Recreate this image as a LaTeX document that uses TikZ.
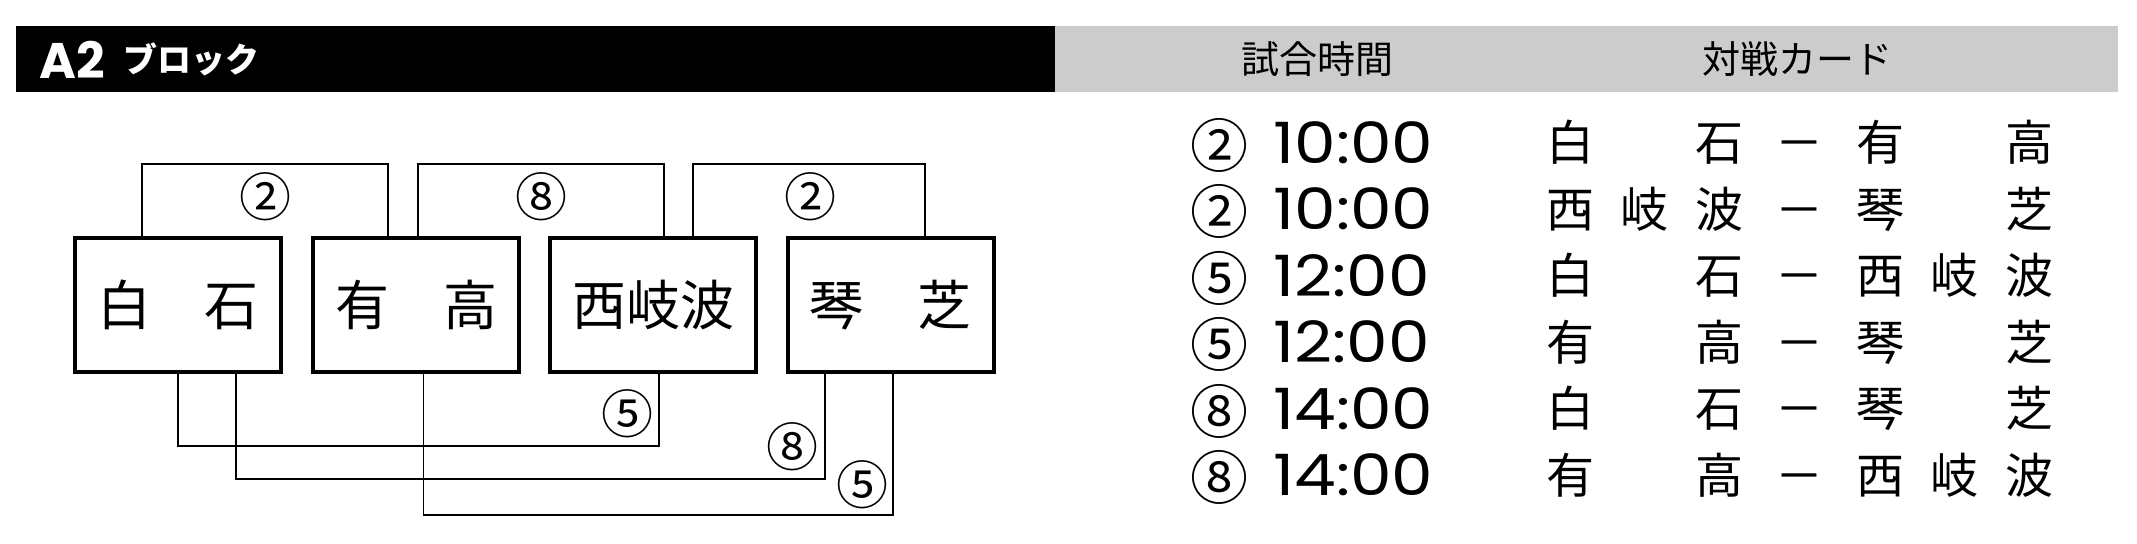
\documentclass[tikz,border=0pt]{standalone}
\usepackage{fontspec}
\setmainfont{Noto Sans CJK JP}
\newfontfamily\geofont{Poppins}
\usetikzlibrary{calc}

\definecolor{headgray}{RGB}{204,204,204}
\newcommand{\cells}[3]{\makebox[37.5pt]{#1}\makebox[37.5pt]{#2}\makebox[37.5pt]{#3}}
\newcommand{\pairing}[2]{#1\makebox[42.5pt]{－}#2}
\newcommand{\clock}[1]{\scalebox{1.16}[1]{#1}}

\tikzset{
  team/.style={draw, line width=2pt, minimum width=103pt, minimum height=67pt, inner sep=0pt, font=\fontsize{27pt}{27pt}\selectfont},
  game/.style={inner sep=0pt, font=\fontsize{26pt}{26pt}\selectfont},
  link/.style={line width=0.7pt},
  rownum/.style={inner sep=0pt, font=\fontsize{29pt}{29pt}\selectfont},
  rowtime/.style={inner sep=0pt, anchor=west, font=\geofont\fontsize{28.5pt}{28.5pt}\selectfont},
  rowcard/.style={inner sep=0pt, font=\fontsize{24pt}{24pt}\selectfont},
  headtext/.style={inner sep=0pt, font=\fontsize{19pt}{19pt}\selectfont}
}

\begin{document}
\begin{tikzpicture}[x=0.5pt, y=-0.5pt]
\useasboundingbox (0,0) rectangle (2137,543);
% Draw header bars
\fill[black] (16,26) rectangle (1055,92);
\fill[headgray] (1055,26) rectangle (2118,92);
\node[inner sep=0pt, anchor=west, text=white, font=\geofont\bfseries\fontsize{25pt}{25pt}\selectfont] (blockno) at (39,59.5) {A2};
\node[inner sep=0pt, anchor=west, text=white, font=\bfseries\fontsize{17pt}{17pt}\selectfont] (blockname) at (123,59.5) {ブロック};
\node[headtext] (timehead) at (1317,59.5) {試合時間};
\node[headtext] (cardhead) at (1797,59.5) {対戦カード};
% Draw team boxes
\node[team] (shiroishi) at (178,305) {白　石};
\node[team] (aritaka) at (416,305) {有　高};
\node[team] (nishikiwa) at (653,305) {西岐波};
\node[team] (kotoshiba) at (890.5,305) {琴　芝};
% Draw brackets above the boxes
\draw[link] ($(shiroishi.north)+(-36,0)$) -- ++(0,-72) -| ($(aritaka.north)+(-28,0)$);
\draw[link] ($(aritaka.north)+(2,0)$) -- ++(0,-72) -| ($(nishikiwa.north)+(11,0)$);
\draw[link] ($(nishikiwa.north)+(40,0)$) -- ++(0,-72) -| ($(kotoshiba.north)+(34.5,0)$);
\node[game] (up1) at (265,197) {②};
\node[game] (up2) at (541,197) {⑧};
\node[game] (up3) at (810,197) {②};
% Draw brackets below the boxes
\draw[link] (shiroishi.south) -- ++(0,72) -| ($(nishikiwa.south)+(6,0)$);
\draw[link] ($(shiroishi.south)+(58,0)$) -- ++(0,105) -| ($(kotoshiba.south)+(-65.5,0)$);
\draw[link] ($(aritaka.south)+(7.5,0)$) -- ++(0,141) -| ($(kotoshiba.south)+(2.5,0)$);
\node[game] (down1) at (627,414) {⑤};
\node[game] (down2) at (792,447) {⑧};
\node[game] (down3) at (862,485) {⑤};
% Draw the timetable
\node[rownum] (num1) at (1219,145) {②};
\node[rowtime] (time1) at (1273,142.5) {\clock{10:00}};
\node[rowcard] (card1) at (1800,142.5) {\pairing{\cells{白}{}{石}}{\cells{有}{}{高}}};
\node[rownum] (num2) at (1219,211.5) {②};
\node[rowtime] (time2) at (1273,209) {\clock{10:00}};
\node[rowcard] (card2) at (1800,209) {\pairing{\cells{西}{岐}{波}}{\cells{琴}{}{芝}}};
\node[rownum] (num3) at (1219,278) {⑤};
\node[rowtime] (time3) at (1273,275.5) {\clock{12:00}};
\node[rowcard] (card3) at (1800,275.5) {\pairing{\cells{白}{}{石}}{\cells{西}{岐}{波}}};
\node[rownum] (num4) at (1219,344.5) {⑤};
\node[rowtime] (time4) at (1273,342) {\clock{12:00}};
\node[rowcard] (card4) at (1800,342) {\pairing{\cells{有}{}{高}}{\cells{琴}{}{芝}}};
\node[rownum] (num5) at (1219,411) {⑧};
\node[rowtime] (time5) at (1273,408.5) {\clock{14:00}};
\node[rowcard] (card5) at (1800,408.5) {\pairing{\cells{白}{}{石}}{\cells{琴}{}{芝}}};
\node[rownum] (num6) at (1219,477.5) {⑧};
\node[rowtime] (time6) at (1273,475) {\clock{14:00}};
\node[rowcard] (card6) at (1800,475) {\pairing{\cells{有}{}{高}}{\cells{西}{岐}{波}}};
\end{tikzpicture}
\end{document}
